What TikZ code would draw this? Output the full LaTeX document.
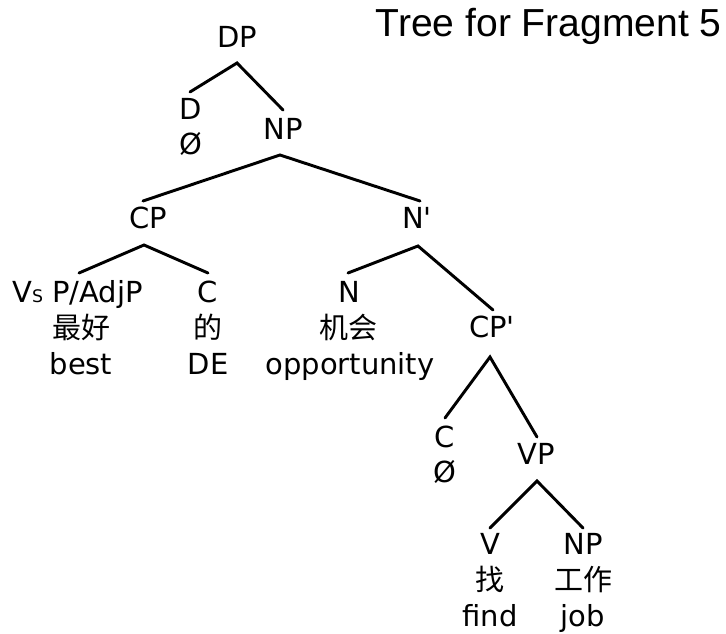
\documentclass[tikz,border=0pt]{standalone}
\usepackage{fontspec}
\setmainfont{DejaVu Sans}[Ligatures=TeXOff]
\newfontfamily\cjkfont{Noto Sans CJK SC}
\newfontfamily\titlefont{Liberation Sans}
\begin{document}
\begin{tikzpicture}[x=0.75pt,y=-0.75pt,
  lab/.style={font=\fontsize{21.75}{24}\selectfont, inner sep=0pt, anchor=base},
  han/.style={font=\cjkfont\fontsize{21.75}{24}\selectfont, inner sep=0pt, anchor=base},
  branch/.style={line width=2.2pt, line cap=round}]
\useasboundingbox (0,0) rectangle (726,634);
% title
\node[font=\titlefont\fontsize{29.3}{32}\selectfont, inner sep=0pt, anchor=base east] (title) at (722,37) {Tree for Fragment 5};
% labels
\node[lab] (dp) at (237,48) {DP};
\node[lab] (d) at (191,120) {D};
\node[lab] (dnull) at (191,155) {Ø};
\node[lab] (np) at (283,140) {NP};
\node[lab] (cp) at (148,229) {CP};
\node[lab] (nbar) at (417,229) {N'};
\node[lab, anchor=base west] (vs) at (12,303) {V\fontsize{13}{14}\selectfont S};
\node[lab, anchor=base west] (adjp) at (52,303) {P/AdjP};
\node[han] (zuihao) at (81,339) {最好};
\node[lab] (best) at (81,375) {best};
\node[lab] (c1) at (208,303) {C};
\node[han] (de) at (208,339) {的};
\node[lab] (degl) at (208,375) {DE};
\node[lab] (n) at (349,303) {N};
\node[han] (jihui) at (348,339) {机会};
\node[lab] (opp) at (350,375) {opportunity};
\node[lab] (cpp) at (492,338) {CP'};
\node[lab] (c2) at (445,448) {C};
\node[lab] (cnull) at (445,483) {Ø};
\node[lab] (vp) at (536,465) {VP};
\node[lab] (v) at (490,555) {V};
\node[han] (zhao) at (490,591) {找};
\node[lab] (find) at (490,627) {find};
\node[lab] (np2) at (583,555) {NP};
\node[han] (gongzuo) at (583,591) {工作};
\node[lab] (job) at (583,627) {job};
% branch points
\coordinate (dpA) at (237,63);
\coordinate (dpL) at (190,92);
\coordinate (dpR) at (283,110);
\coordinate (npA) at (280,155);
\coordinate (npL) at (143,201);
\coordinate (npR) at (420,201);
\coordinate (cpA) at (144,245);
\coordinate (cpL) at (79,273);
\coordinate (cpR) at (208,273);
\coordinate (nbA) at (418,246);
\coordinate (nbL) at (348,273);
\coordinate (nbR) at (493,310);
\coordinate (cppA) at (490,357);
\coordinate (cppL) at (445,418);
\coordinate (cppR) at (537,437);
\coordinate (vpA) at (537,481);
\coordinate (vpL) at (490,528);
\coordinate (vpR) at (583,528);
\draw[branch] (dpL) -- (dpA) -- (dpR);
\draw[branch] (npL) -- (npA) -- (npR);
\draw[branch] (cpL) -- (cpA) -- (cpR);
\draw[branch] (nbL) -- (nbA) -- (nbR);
\draw[branch] (cppL) -- (cppA) -- (cppR);
\draw[branch] (vpL) -- (vpA) -- (vpR);
\end{tikzpicture}
\end{document}
